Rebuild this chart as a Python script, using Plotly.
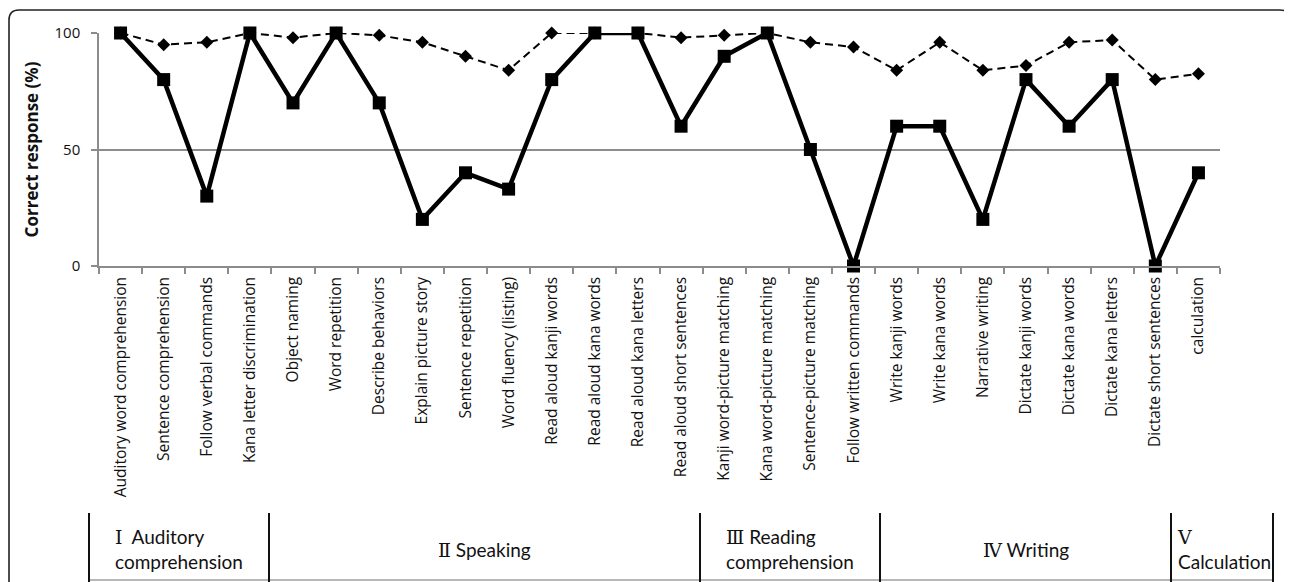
import plotly.graph_objects as go

# ---------------- data ----------------
categories = [
    "Auditory word comprehension", "Sentence comprehension", "Follow verbal commands",
    "Kana letter discrimination", "Object naming", "Word repetition", "Describe behaviors",
    "Explain picture story", "Sentence repetition", "Word fluency (listing)",
    "Read aloud kanji words", "Read aloud kana words", "Read aloud kana letters",
    "Read aloud short sentences", "Kanji word-picture matching", "Kana word-picture matching",
    "Sentence-picture matching", "Follow written commands", "Write kanji words",
    "Write kana words", "Narrative writing", "Dictate kanji words", "Dictate kana words",
    "Dictate kana letters", "Dictate short sentences", "calculation",
]
patient = [100, 80, 30, 100, 70, 100, 70, 20, 40, 33,
           80, 100, 100, 60, 90, 100, 50, 0, 60, 60,
           20, 80, 60, 80, 0, 40]
reference = [100, 95, 96, 100, 98, 100, 99, 96, 90, 84,
             100, 100, 100, 98, 99, 100, 96, 94, 84, 96,
             84, 86, 96, 97, 80, 82.5]
y_ticks = [0, 50, 100]
group_names = ["Auditory<br>comprehension", "Speaking", "Reading<br>comprehension",
               "Writing", "<br>Calculation"]
group_numerals = ["Ⅰ", "Ⅱ", "Ⅲ", "Ⅳ", "Ⅴ"]

# ---------------- layout geometry (pixels, page coords) ----------------
OFF = 8                      # default page body margin
W, H = 1292 - OFF, 582 - OFF
PL, PR, PT, PB = 99, 1220, 33, 266  # plot area box in page pixels


def px_x(p):
    return (p - PL) / (PR - PL)


def px_y(p):
    return (PB - p) / (PB - PT)


cell_lines_px = [89, 269, 700, 880, 1171, 1273]
cell_top_px = 513
label_font = "Open Sans, Noto Sans, sans-serif"
group_font = "Lato, Open Sans, sans-serif"

fig = go.Figure()
fig.add_trace(go.Scatter(
    x=categories, y=reference, mode="lines+markers",
    line=dict(color="black", width=2, dash="8px,5px"),
    marker=dict(symbol="diamond", size=10, color="black"),
    cliponaxis=False, showlegend=False,
))
fig.add_trace(go.Scatter(
    x=categories, y=patient, mode="lines+markers",
    line=dict(color="black", width=4.5),
    marker=dict(symbol="square", size=13, color="black"),
    cliponaxis=False, showlegend=False,
))

shapes = []
r = 10
x0, x1, y0, y1 = 9, 1290, 10, 600
path = (f"M {px_x(x0)},{px_y(y1)} L {px_x(x0)},{px_y(y0 + r)} "
        f"Q {px_x(x0)},{px_y(y0)} {px_x(x0 + r)},{px_y(y0)} "
        f"L {px_x(x1 - r)},{px_y(y0)} Q {px_x(x1)},{px_y(y0)} {px_x(x1)},{px_y(y0 + r)} "
        f"L {px_x(x1)},{px_y(y1)}")
shapes.append(dict(type="path", xref="paper", yref="paper", path=path,
                   line=dict(color="#222222", width=1.6)))
shapes.append(dict(type="line", xref="paper", yref="paper",
                   x0=px_x(cell_lines_px[0]), x1=px_x(cell_lines_px[-1]),
                   y0=px_y(580), y1=px_y(580), line=dict(color="#a0a0a0", width=1.5)))
for p in cell_lines_px:
    shapes.append(dict(type="line", xref="paper", yref="paper",
                       x0=px_x(p), x1=px_x(p), y0=px_y(cell_top_px), y1=px_y(600),
                       line=dict(color="#111111", width=2)))

annotations = []
for i, (num, name) in enumerate(zip(group_numerals, group_names)):
    left, right = cell_lines_px[i], cell_lines_px[i + 1]
    num_span = f"<span style='font-family:DejaVu Serif, Noto Serif, serif'>{num}</span>"
    if i == 4:
        annotations.append(dict(xref="paper", yref="paper", x=px_x(left + 4), y=px_y(549),
                                xanchor="left", yanchor="middle", align="left",
                                text=num_span + name, showarrow=False,
                                font=dict(family=group_font, size=19, color="#111111")))
    else:
        sep = "  " if i == 0 else " "
        annotations.append(dict(xref="paper", yref="paper", x=px_x((left + right) / 2),
                                y=px_y(549), xanchor="center", yanchor="middle",
                                align="left", text=num_span + sep + name, showarrow=False,
                                font=dict(family=group_font, size=19, color="#111111")))

fig.update_layout(
    width=W, height=H,
    margin=dict(l=PL - OFF, r=W + OFF - PR, t=PT - OFF, b=H + OFF - PB, autoexpand=False),
    paper_bgcolor="white", plot_bgcolor="white",
    shapes=shapes, annotations=annotations,
    xaxis=dict(
        type="category", range=[-0.5, len(categories) - 0.5],
        showline=True, linecolor="#8c8c8c", linewidth=1.5,
        ticks="outside", tickson="boundaries", ticklen=6, tickcolor="#8c8c8c", tickwidth=1.5,
        tickangle=-90, showgrid=False, ticklabelstandoff=3,
        tickfont=dict(family=label_font, size=15.5, color="#111111"),
    ),
    yaxis=dict(
        range=[0, 100], tickvals=y_ticks, ticktext=[str(v) for v in y_ticks],
        showline=True, linecolor="#8c8c8c", linewidth=1.5,
        ticks="outside", ticklen=6, tickcolor="#8c8c8c", tickwidth=1.5,
        showgrid=True, gridcolor="#8c8c8c", gridwidth=1.5, zeroline=False,
        ticklabelstandoff=8,
        tickfont=dict(family=label_font, size=15, color="#111111"),
        title=dict(text="<b>Correct response (%)</b>", standoff=12,
                   font=dict(family=label_font, size=17, color="#111111")),
    ),
)

fig.write_html("out.html")
